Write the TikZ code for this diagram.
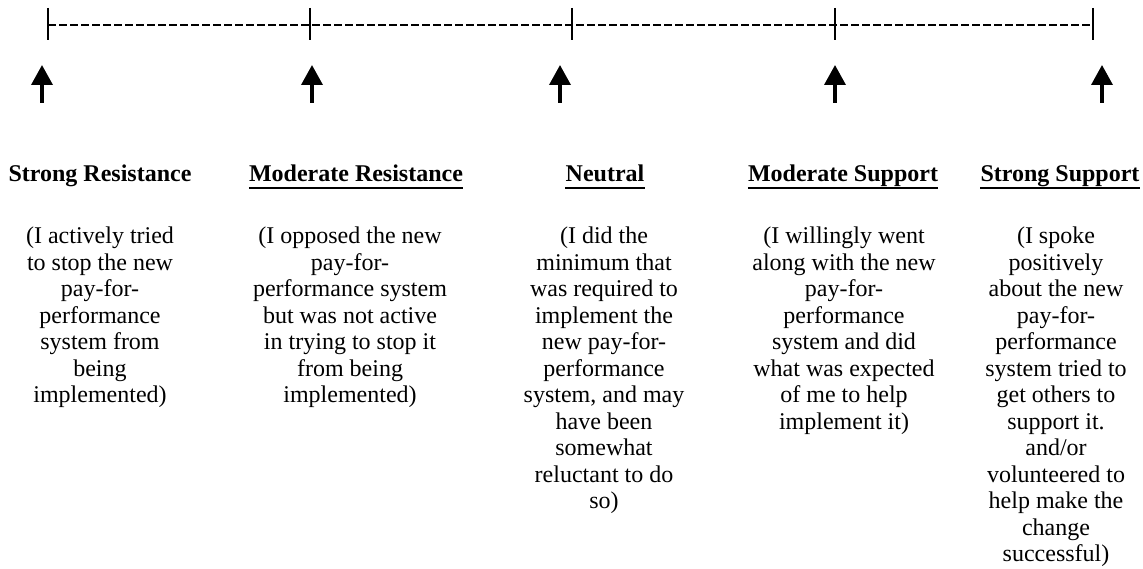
\documentclass[tikz,border=0pt]{standalone}
\usepackage{fontspec}
\setmainfont{Liberation Serif}
\usetikzlibrary{arrows.meta}
\begin{document}
\begin{tikzpicture}[x=1pt,y=-1pt,
  scaleline/.style={line width=1.8pt,dash pattern=on 8pt off 3pt},
  tickmark/.style={line width=2.4pt},
  uparrow/.style={line width=3.6pt,-{Triangle[width=21pt,length=20pt]}},
  heading/.style={anchor=base,inner sep=0pt,font=\fontsize{24}{26.5}\selectfont\bfseries},
  body/.style={anchor=north,inner sep=0pt,align=center,font=\fontsize{24}{26.5}\selectfont},
  uline/.style={line width=2.6pt}]
\useasboundingbox (0,0) rectangle (1143,569);

% the scale line with its five tick marks
\foreach \i/\x in {1/48,2/310,3/572,4/835,5/1093}{
  \coordinate (t\i) at (\x,25);
  \coordinate (t\i u) at (\x,8);
  \coordinate (t\i d) at (\x,40);
  \draw[tickmark] (t\i u) -- (t\i d);
}
\draw[scaleline] (t1) -- (t5);

% arrows pointing up at the scale
\foreach \i/\x in {1/42,2/312,3/560,4/835,5/1102}{
  \coordinate (a\i b) at (\x,103);
  \coordinate (a\i t) at (\x,65);
  \draw[uparrow] (a\i b) -- (a\i t);
}

% headings
\node[heading] (h1) at (100,182) {Strong Resistance};
\node[heading] (h2) at (356,182) {Moderate Resistance};
\node[heading] (h3) at (605,182) {Neutral};
\node[heading] (h4) at (843,182) {Moderate Support};
\node[heading] (h5) at (1060,182) {Strong Support};
\foreach \n in {h2,h3,h4,h5}{
  \draw[uline] ([yshift=-6pt]\n.base west) -- ([yshift=-6pt]\n.base east);
}

% descriptions
\node[body] (d1) at (100,227) {(I actively tried\\to stop the new\\pay-for-\\performance\\system from\\being\\implemented)};
\node[body] (d2) at (350,227) {(I opposed the new\\pay-for-\\performance system\\but was not active\\in trying to stop it\\from being\\implemented)};
\node[body] (d3) at (604,227) {(I did the\\minimum that\\was required to\\implement the\\new pay-for-\\performance\\system, and may\\have been\\somewhat\\reluctant to do\\so)};
\node[body] (d4) at (844,227) {(I willingly went\\along with the new\\pay-for-\\performance\\system and did\\what was expected\\of me to help\\implement it)};
\node[body] (d5) at (1056,227) {(I spoke\\positively\\about the new\\pay-for-\\performance\\system tried to\\get others to\\support it.\\and/or\\volunteered to\\help make the\\change\\successful)};
\end{tikzpicture}
\end{document}
